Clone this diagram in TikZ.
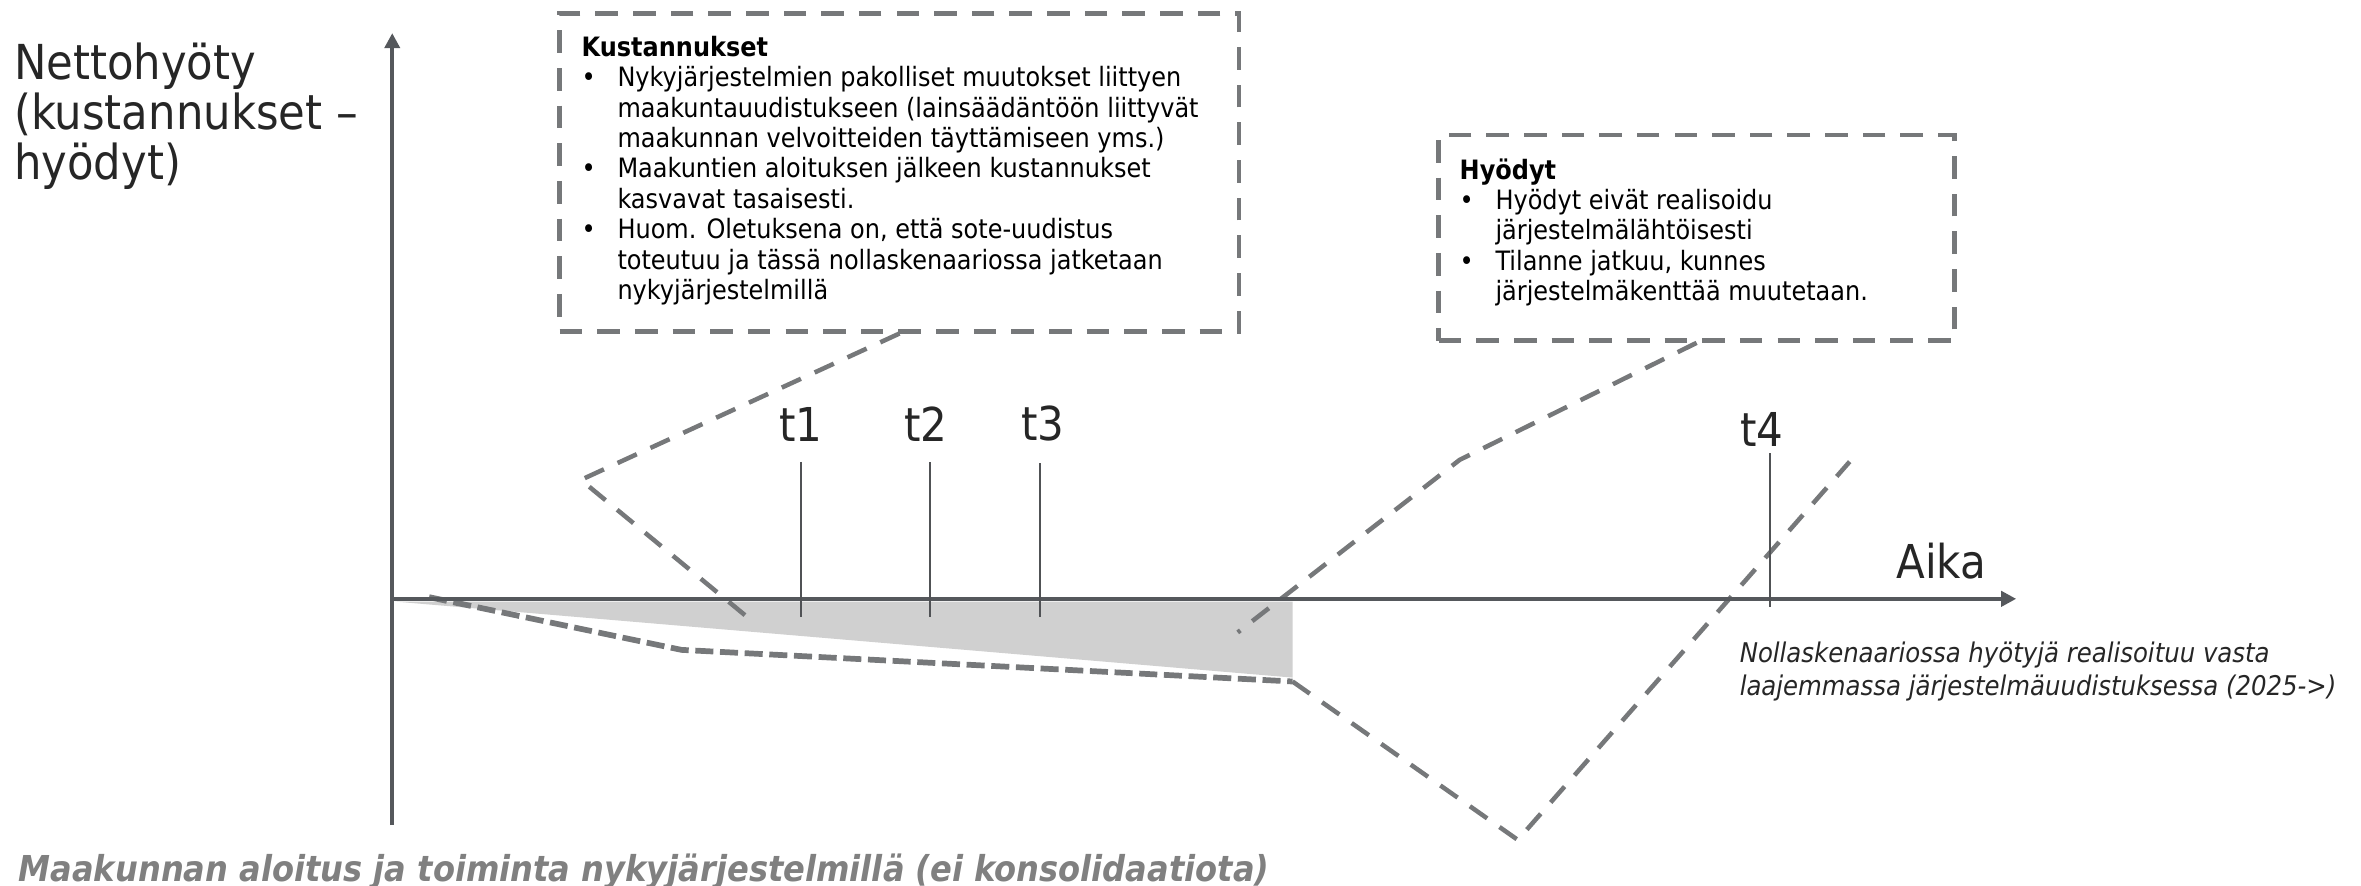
\documentclass[tikz,border=0pt]{standalone}
\usepackage{fontspec}
\setmainfont{DejaVu Sans}[FakeStretch=0.9]
\usetikzlibrary{arrows.meta}
\definecolor{axisc}{RGB}{85,88,92}
\definecolor{dashc}{RGB}{118,120,122}
\definecolor{fillc}{RGB}{208,208,208}
\definecolor{txtc}{RGB}{38,38,38}
\definecolor{tickc}{RGB}{80,82,85}
\definecolor{notec}{RGB}{128,128,128}
\newlength{\bind}
\setlength{\bind}{11.9pt}
\newcommand{\bul}{\makebox[\bind][l]{•}}
\newcommand{\cont}{\hspace*{\bind}}
\tikzset{
  axisline/.style={draw=axisc, line width=1.3pt, -{Triangle[length=5pt,width=5pt]}},
  dbox/.style={draw=dashc, line width=1.5pt, dash pattern=on 7.5pt off 5pt, inner sep=0pt},
  conn/.style={draw=dashc, line width=1.5pt, dash pattern=on 7pt off 5pt},
  thickdash/.style={draw=dashc, line width=1.9pt, dash pattern=on 6pt off 2.2pt},
  tickline/.style={draw=tickc, line width=0.6pt},
  tlabel/.style={text=txtc, font=\fontsize{15.5}{18}\selectfont, inner sep=0pt},
  boxtext/.style={text=black, font=\fontsize{8.85}{10.1}\selectfont, align=left, inner sep=0pt, anchor=north west},
}
\begin{document}
\begin{tikzpicture}[x=0.5pt,y=-0.5pt]
\useasboundingbox (0,0) rectangle (1568,588);
% shaded area
\fill[fillc] (262,399.5) -- (858.4,399.5) -- (858.4,450) -- cycle;
% boxes
\node[dbox, minimum width=225.65pt, minimum height=105.55pt] (kbox) at (597.35,114.45) {};
\node[dbox, minimum width=171.25pt, minimum height=68.3pt] (hbox) at (1126.75,157.9) {};
\node[boxtext] (ktext) at (385.9,23.5) {\textbf{Kustannukset}\\
\bul Nykyjärjestelmien pakolliset muutokset liittyen\\
\cont maakuntauudistukseen (lainsäädäntöön liittyvät\\
\cont maakunnan velvoitteiden täyttämiseen yms.)\\
\bul Maakuntien aloituksen jälkeen kustannukset\\
\cont kasvavat tasaisesti.\\
\bul Huom. Oletuksena on, että sote-uudistus\\
\cont toteutuu ja tässä nollaskenaariossa jatketaan\\
\cont nykyjärjestelmillä};
\node[boxtext] (htext) at (969,104.8) {\textbf{Hyödyt}\\
\bul Hyödyt eivät realisoidu\\
\cont järjestelmälähtöisesti\\
\bul Tilanne jatkuu, kunnes\\
\cont järjestelmäkenttää muutetaan.};
% connectors
\coordinate (kc1) at (385.8,318.7);
\coordinate (kc2) at (501,413.7);
\draw[conn] (kbox.south) -- (kc1) -- (kc2);
\coordinate (hc1) at (969.4,305.4);
\coordinate (hc2) at (822,420);
\draw[conn] (hbox.south) -- (hc1) -- (hc2);
% cost / benefit curve
\coordinate (p0) at (285,396.6);
\coordinate (p1) at (452.6,431.6);
\coordinate (p2) at (858.4,452.6);
\coordinate (p3) at (1008,557.8);
\coordinate (p4) at (1228.4,306.6);
\draw[thickdash] (p0) -- (p1) -- (p2);
\draw[conn] (p2) -- (p3) -- (p4);
% axes
\coordinate (origin) at (260.5,397.7);
\coordinate (ybot) at (260.5,548);
\coordinate (ytop) at (260.5,22);
\coordinate (xend) at (1339,397.7);
\draw[axisline] (ybot) -- (ytop);
\draw[axisline] (origin) -- (xend);
% ticks
\coordinate (t1a) at (532,306.8); \coordinate (t1b) at (532,409.6);
\coordinate (t2a) at (617.6,307); \coordinate (t2b) at (617.6,409.6);
\coordinate (t3a) at (690.6,307.5); \coordinate (t3b) at (690.6,410);
\coordinate (t4a) at (1175.4,301); \coordinate (t4b) at (1175.4,403);
\draw[tickline] (t1a) -- (t1b);
\draw[tickline] (t2a) -- (t2b);
\draw[tickline] (t3a) -- (t3b);
\draw[tickline] (t4a) -- (t4b);
\node[tlabel] (t1) at (532,282) {t1};
\node[tlabel] (t2) at (615,282) {t2};
\node[tlabel] (t3) at (692.5,281) {t3};
\node[tlabel] (t4) at (1170,285) {t4};
\node[tlabel, anchor=west] (aika) at (1259,372.5) {Aika};
% y label
\node[text=txtc, font=\fontsize{16}{16.7}\selectfont, align=left, inner sep=0pt, anchor=north west] (ylab) at (9,28) {Nettohyöty\\(kustannukset –\\hyödyt)};
% note
\node[text=txtc, font=\fontsize{9}{10.9}\selectfont\itshape, align=left, inner sep=0pt, anchor=north west] (note) at (1155,426) {Nollaskenaariossa hyötyjä realisoituu vasta\\laajemmassa järjestelmäuudistuksessa (2025->)};
% bottom caption
\node[text=notec, font=\fontsize{11.85}{13}\selectfont\bfseries\itshape, inner sep=0pt, anchor=west] (caption) at (12,578.5) {Maakunnan aloitus ja toiminta nykyjärjestelmillä (ei konsolidaatiota)};
\end{tikzpicture}
\end{document}
